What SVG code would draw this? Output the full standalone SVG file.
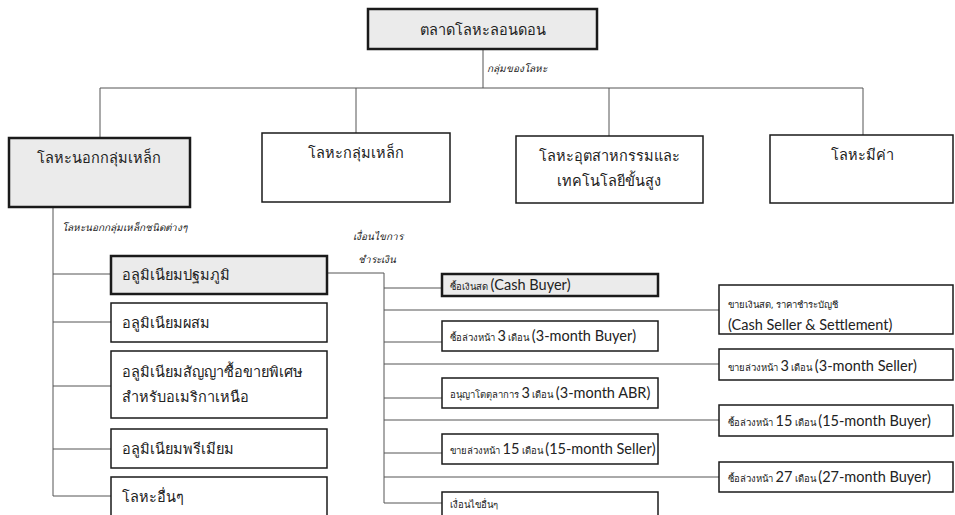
<svg xmlns="http://www.w3.org/2000/svg" width="955" height="515" viewBox="0 0 955 515">
<style>
.box{fill:#fff;stroke:#1a1a1a;stroke-width:1.5}
.hl{fill:#ebebeb;stroke:#1a1a1a;stroke-width:2.5}
.c{fill:none;stroke:#555;stroke-width:1}
.t{font-family:"Noto Sans","DejaVu Sans",sans-serif;fill:#222}
.big{font-size:14.5px}
.lab{font-size:10px;font-style:italic}
.sm{font-size:9.5px}
.en{font-family:Lato,"Open Sans","Liberation Sans",sans-serif;font-size:14.5px}
</style>
<rect width="955" height="515" fill="#fff"/>
<g id="connectors">
<path class="c" d="M483 49V88M100 88H863M100 88V138M356 88V133M609 88V136M863 88V135"/>
<path class="c" d="M53 207V496M53 274H111M53 322H111M53 386H111M53 449H111M53 496H111"/>
<path class="c" d="M327 273H384V503M384 288H442M384 310H719M384 342H442M384 364H719M384 398H442M384 420H719M384 453H442M384 477H719M384 503H442"/>
</g>
<g id="n-root"><rect class="hl" x="368" y="9" width="229" height="40"/><text class="t big" x="483" y="35" text-anchor="middle">ตลาดโลหะลอนดอน</text></g>
<text class="t lab" x="487" y="72">กลุ่มของโลหะ</text>
<g id="n-nonferrous"><rect class="hl" x="9" y="138" width="181" height="69"/><text class="t big" x="99" y="163" text-anchor="middle">โลหะนอกกลุ่มเหล็ก</text></g>
<g id="n-ferrous"><rect class="box" x="262" y="133" width="188" height="69"/><text class="t big" x="356" y="158" text-anchor="middle">โลหะกลุ่มเหล็ก</text></g>
<g id="n-industrial"><rect class="box" x="516" y="136" width="187" height="67"/><text class="t big" x="609" y="161" text-anchor="middle">โลหะอุตสาหกรรมและ</text><text class="t big" x="609" y="186" text-anchor="middle">เทคโนโลยีขั้นสูง</text></g>
<g id="n-precious"><rect class="box" x="770" y="135" width="183" height="68"/><text class="t big" x="862" y="160" text-anchor="middle">โลหะมีค่า</text></g>
<text class="t lab" x="62" y="231">โลหะนอกกลุ่มเหล็กชนิดต่างๆ</text>
<g id="n-primary"><rect class="hl" x="111" y="256" width="216" height="38"/><text class="t big" x="122" y="280">อลูมิเนียมปฐมภูมิ</text></g>
<g id="n-alloy"><rect class="box" x="111" y="303" width="216" height="39"/><text class="t big" x="122" y="328">อลูมิเนียมผสม</text></g>
<g id="n-nasaac"><rect class="box" x="111" y="351" width="216" height="67"/><text class="t big" x="122" y="377">อลูมิเนียมสัญญาซื้อขายพิเศษ</text><text class="t big" x="122" y="402">สำหรับอเมริกาเหนือ</text></g>
<g id="n-premium"><rect class="box" x="111" y="429" width="216" height="39"/><text class="t big" x="122" y="454">อลูมิเนียมพรีเมียม</text></g>
<g id="n-other"><rect class="box" x="111" y="477" width="216" height="45"/><text class="t big" x="122" y="502">โลหะอื่นๆ</text></g>
<text class="t lab" x="353" y="240">เงื่อนไขการ</text>
<text class="t lab" x="358" y="263">ชำระเงิน</text>
<g id="n-cashbuyer"><rect class="hl" x="442" y="274" width="216" height="22"/><text class="t" x="450" y="290"><tspan class="sm">ซื้อเงินสด </tspan><tspan class="en">(Cash Buyer)</tspan></text></g>
<g id="n-3mbuyer"><rect class="box" x="442" y="321" width="216" height="30"/><text class="t" x="450" y="341"><tspan class="sm">ซื้อล่วงหน้า </tspan><tspan class="en">3</tspan><tspan class="sm"> เดือน </tspan><tspan class="en">(3-month Buyer)</tspan></text></g>
<g id="n-abr"><rect class="box" x="442" y="378" width="216" height="30"/><text class="t" x="450" y="398"><tspan class="sm">อนุญาโตตุลาการ </tspan><tspan class="en">3</tspan><tspan class="sm"> เดือน </tspan><tspan class="en">(3-month ABR)</tspan></text></g>
<g id="n-15mseller"><rect class="box" x="442" y="434" width="216" height="30"/><text class="t" x="450" y="454"><tspan class="sm">ขายล่วงหน้า </tspan><tspan class="en">15</tspan><tspan class="sm"> เดือน </tspan><tspan class="en">(15-month Seller)</tspan></text></g>
<g id="n-othercond"><rect class="box" x="442" y="492" width="216" height="30"/><text class="t sm" x="450" y="508">เงื่อนไขอื่นๆ</text></g>
<g id="n-cashseller"><rect class="box" x="719" y="285" width="234" height="49"/><text class="t sm" x="728" y="308">ขายเงินสด, ราคาชำระบัญชี</text><text class="t en" x="728" y="330">(Cash Seller &amp; Settlement)</text></g>
<g id="n-3mseller"><rect class="box" x="719" y="349" width="234" height="31"/><text class="t" x="728" y="371"><tspan class="sm">ขายล่วงหน้า </tspan><tspan class="en">3</tspan><tspan class="sm"> เดือน </tspan><tspan class="en">(3-month Seller)</tspan></text></g>
<g id="n-15mbuyer"><rect class="box" x="719" y="405" width="234" height="31"/><text class="t" x="728" y="426"><tspan class="sm">ซื้อล่วงหน้า </tspan><tspan class="en">15</tspan><tspan class="sm"> เดือน </tspan><tspan class="en">(15-month Buyer)</tspan></text></g>
<g id="n-27mbuyer"><rect class="box" x="719" y="462" width="234" height="30"/><text class="t" x="728" y="482"><tspan class="sm">ซื้อล่วงหน้า </tspan><tspan class="en">27</tspan><tspan class="sm"> เดือน </tspan><tspan class="en">(27-month Buyer)</tspan></text></g>
</svg>
